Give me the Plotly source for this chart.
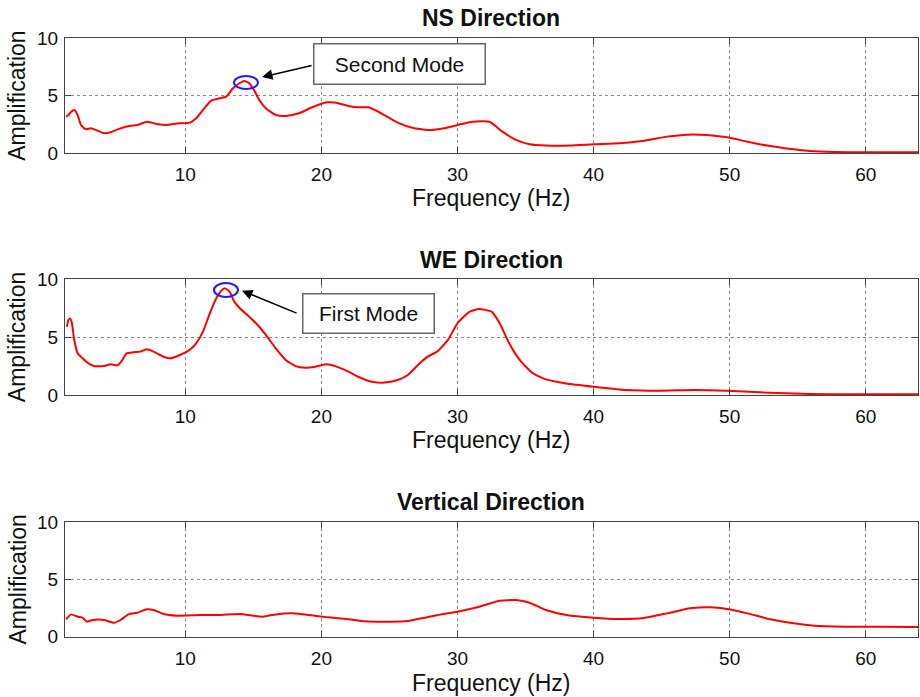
import plotly.graph_objects as go

# ---------------- data ----------------
ns_freq = [1.24, 1.4, 1.6, 1.85, 2.1, 2.33, 2.7, 3.06, 3.54, 4.03, 4.5, 5.24, 5.97, 6.46, 7.18, 7.9,
           8.64, 9.37, 10.34, 10.8, 11.3, 11.9, 12.5, 13.0, 13.5, 13.98, 14.34, 14.7, 15.07, 15.44,
           15.92, 16.65, 17.38, 18.35, 19.32, 20.4, 21.0, 22.0, 22.7, 23.45, 24.4, 25.6, 26.84,
           28.06, 29.0, 30.0, 31.1, 32.36, 33.3, 34.3, 35.3, 36.5, 38.3, 40.0, 41.9, 43.7, 45.4,
           46.9, 48.3, 49.8, 51.3, 52.75, 54.2, 55.9, 57.7, 60.1, 63.9]
ns_amp = [3.19, 3.3, 3.6, 3.77, 3.3, 2.46, 2.09, 2.17, 1.97, 1.74, 1.83, 2.17, 2.4, 2.46, 2.75, 2.55,
          2.46, 2.6, 2.67, 3.04, 3.77, 4.58, 4.78, 4.93, 5.65, 6.09, 6.29, 6.09, 5.45, 4.64,
          3.91, 3.33, 3.25, 3.48, 4.0, 4.43, 4.41, 4.12, 4.0, 4.0, 3.48, 2.67, 2.17,
          2.03, 2.17, 2.46, 2.75, 2.75, 1.88, 1.16, 0.78, 0.67, 0.67, 0.78, 0.87, 1.1, 1.45,
          1.62, 1.59, 1.39, 1.01, 0.67, 0.41, 0.2, 0.12, 0.09, 0.09]

we_freq = [1.3, 1.42, 1.55, 1.67, 1.84, 2.09, 2.45, 2.8, 3.3, 4.03, 4.5, 5.0, 5.36, 5.68, 6.2, 6.7,
           7.18, 7.67, 8.4, 8.88, 9.6, 10.3, 10.8, 11.3, 11.8, 12.28, 12.65, 12.9, 13.25, 13.6,
           14.0, 14.7, 15.44, 15.92, 16.65, 17.38, 18.1, 18.83, 19.56, 20.4, 21.0, 22.0, 22.7,
           23.7, 24.66, 25.6, 26.36, 27.1, 27.8, 28.5, 29.3, 30.0, 30.9, 31.6, 32.5, 33.1, 33.8,
           34.57, 35.55, 36.5, 38.0, 40.0, 42.4, 44.9, 47.35, 49.8, 52.26, 54.7, 57.2, 63.9]
we_amp = [5.9, 6.5, 6.6, 6.2, 4.75, 3.6, 3.17, 2.8, 2.5, 2.5, 2.65, 2.56, 3.0, 3.6, 3.69, 3.75,
          3.95, 3.75, 3.31, 3.17, 3.46, 3.89, 4.47, 5.48, 7.06, 8.36, 9.02, 9.22, 8.93, 8.07,
          7.5, 6.77, 5.9, 5.19, 4.03, 3.03, 2.5, 2.36, 2.45, 2.65, 2.5, 2.02, 1.58,
          1.15, 1.07, 1.3, 1.73, 2.6, 3.31, 3.75, 4.76, 6.2, 7.2, 7.44, 7.2, 6.2, 4.47,
          3.03, 1.87, 1.35, 1.0, 0.72, 0.43, 0.37, 0.43, 0.37, 0.23, 0.12, 0.06, 0.06]

v_freq = [1.24, 1.6, 2.09, 2.45, 2.77, 3.18, 4.03, 4.76, 5.24, 5.85, 6.46, 7.18, 7.67, 8.4, 9.37,
          11.07, 12.5, 14.0, 15.7, 16.65, 17.9, 19.1, 20.5, 22.0, 23.2, 25.1, 26.36, 27.6, 28.8,
          30.0, 31.6, 33.1, 34.3, 35.3, 36.5, 38.0, 40.0, 41.9, 43.7, 45.4, 47.1, 48.6, 49.8,
          51.3, 53.0, 54.7, 56.2, 58.4, 60.9, 63.9]
v_amp = [1.52, 1.95, 1.75, 1.66, 1.31, 1.46, 1.46, 1.22, 1.46, 1.98, 2.1, 2.39, 2.33, 1.98, 1.84,
         1.9, 1.9, 1.98, 1.75, 1.95, 2.04, 1.9, 1.69, 1.52, 1.34, 1.31, 1.37, 1.66, 1.95,
         2.19, 2.62, 3.15, 3.2, 2.97, 2.33, 1.9, 1.66, 1.55, 1.63, 2.04, 2.48, 2.57, 2.42,
         2.04, 1.52, 1.17, 0.96, 0.87, 0.87, 0.85]

panel_titles = ["NS Direction", "WE Direction", "Vertical Direction"]
x_ticks = [10, 20, 30, 40, 50, 60]
y_ticks = [0, 5, 10]
x_label = "Frequency (Hz)"
y_label = "Amplification"

# ---------------- layout helpers ----------------
W, H = 920, 697
FONT = "Liberation Sans, Arial, Helvetica, sans-serif"


def px(x):
    return x / W


def py(y):
    return 1 - y / H


x_dom = [px(65), px(918)]
panels = [(38.3, 153.3), (279.3, 395.0), (522.3, 636.7)]  # pixel top / bottom
title_y = [18, 260, 502]
xlabel_y = [198, 440, 683]

fig = go.Figure()
series = [(ns_freq, ns_amp), (we_freq, we_amp), (v_freq, v_amp)]
for i, (f, a) in enumerate(series):
    sfx = "" if i == 0 else str(i + 1)
    fig.add_trace(go.Scatter(x=f, y=a, mode="lines", xaxis="x" + sfx, yaxis="y" + sfx,
                             line=dict(color="#ff0000", width=2, shape="spline", smoothing=0.5),
                             showlegend=False, hoverinfo="skip"))

annotations = []
for i, (top, bot) in enumerate(panels):
    sfx = "" if i == 0 else str(i + 1)
    common = dict(showline=True, linecolor="#444444", linewidth=1, mirror="allticks",
                  ticks="inside", ticklen=6, tickcolor="#444444",
                  showgrid=True, gridcolor="#8a8a8a", griddash="dot", gridwidth=1,
                  zeroline=False, fixedrange=True, automargin=False,
                  tickfont=dict(family=FONT, size=19, color="#111111"))
    fig.update_layout(**{
        "xaxis" + sfx: dict(domain=x_dom, range=[1.16, 63.84], tickvals=x_ticks,
                            anchor="y" + sfx, ticklabelstandoff=4, **common),
        "yaxis" + sfx: dict(domain=[py(bot), py(top)], range=[0, 10], tickvals=y_ticks,
                            anchor="x" + sfx, ticklabelstandoff=2, **common),
    })
    annotations.append(dict(text="<b>%s</b>" % panel_titles[i], x=px(491), y=py(title_y[i]),
                            xref="paper", yref="paper", showarrow=False, xanchor="center",
                            yanchor="middle", font=dict(family=FONT, size=23, color="#111111")))
    annotations.append(dict(text=x_label, x=px(491), y=py(xlabel_y[i]),
                            xref="paper", yref="paper", showarrow=False, xanchor="center",
                            yanchor="middle", font=dict(family=FONT, size=23, color="#111111")))
    annotations.append(dict(text=y_label, x=px(17), y=py((top + bot) / 2),
                            xref="paper", yref="paper", showarrow=False, textangle=-90,
                            xanchor="center", yanchor="middle",
                            font=dict(family=FONT, size=23, color="#111111")))

# mode call-outs: NS (second mode), WE (first mode)
annotations += [
    dict(text="Second Mode", x=px(399.5), y=py(64), xref="paper", yref="paper", showarrow=False,
         xanchor="center", yanchor="middle",
         width=168, height=37, bordercolor="#666666", borderwidth=1.5, bgcolor="white",
         font=dict(family=FONT, size=21, color="#111111")),
    dict(text="", x=15.64, y=6.63, xref="x", yref="y", ax=51, ay=-12, showarrow=True,
         arrowhead=2, arrowsize=1.3, arrowwidth=1.6, arrowcolor="black"),
    dict(text="First Mode", x=px(368.5), y=py(313.5), xref="paper", yref="paper", showarrow=False,
         xanchor="center", yanchor="middle",
         width=128, height=36, bordercolor="#666666", borderwidth=1.5, bgcolor="white",
         font=dict(family=FONT, size=21, color="#111111")),
    dict(text="", x=14.17, y=9.01, xref="x2", yref="y2", ax=56, ay=23, showarrow=True,
         arrowhead=2, arrowsize=1.3, arrowwidth=1.6, arrowcolor="black"),
]

shapes = [
    dict(type="circle", xref="x", yref="y", x0=13.58, x1=15.34, y0=5.59, y1=6.73,
         line=dict(color="#1a1aff", width=2)),
    dict(type="circle", xref="x2", yref="y2", x0=12.11, x1=13.87, y0=8.47, y1=9.67,
         line=dict(color="#1a1aff", width=2)),
]

fig.update_layout(width=W, height=H, margin=dict(l=0, r=0, t=0, b=0),
                  paper_bgcolor="white", plot_bgcolor="white", template="none",
                  annotations=annotations, shapes=shapes, showlegend=False)

fig.write_html("out.html", config={"displayModeBar": False},
               post_script="document.body.style.margin='0';document.body.style.overflow='hidden';")
